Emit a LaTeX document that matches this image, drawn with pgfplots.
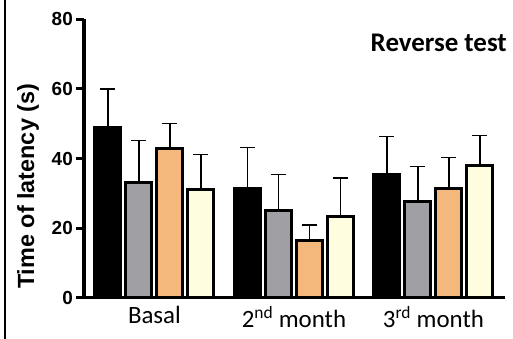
\documentclass[border=0pt]{standalone}
\usepackage{pgfplots}
\pgfplotsset{compat=1.18}
\usepackage{fontspec}
\setmainfont{Carlito}
\newfontfamily\lib{Liberation Sans}
\definecolor{cgray}{HTML}{A0A0A4}
\definecolor{corange}{HTML}{F4B77C}
\definecolor{cyellow}{HTML}{FFFDE0}
\begin{document}
\begin{tikzpicture}
\path[use as bounding box] (0,0) rectangle (513bp,339bp);
\draw[line width=2bp] (5bp,0) -- (5bp,339bp);
\begin{axis}[
  at={(84bp,41bp)}, anchor=south west, scale only axis,
  width=421bp, height=279bp,
  xmin=-0.505, xmax=2.513, ymin=0, ymax=80,
  axis x line*=bottom, axis y line*=left,
  axis line style={line width=3bp, -},
  ytick={0,20,40,60,80},
  major y tick style={line width=3bp, black},
  major tick length=8bp, tick align=outside,
  xtick={0,1,2},
  xticklabels={Basal, 2\textsuperscript{nd} month, 3\textsuperscript{rd} month},
  major x tick style={draw=none},
  x tick label style={font=\fontsize{25}{25}\selectfont, inner sep=0pt, yshift=0bp},
  y tick label style={font=\fontsize{19}{19}\selectfont\lib\bfseries, inner sep=0pt, xshift=-3bp},
  /pgf/number format/assume math mode=true,
  ylabel={Time of latency (s)},
  ylabel style={font=\fontsize{23.5}{23.5}\selectfont\lib\bfseries, at={(rel axis cs:0,0.4)}, anchor=center, yshift=56bp},
  ybar=5bp, bar width=26bp,
  clip=false,
]
\addplot[fill=black, draw=black, line width=3bp,
  error bars/.cd, y dir=plus, y explicit,
  error bar style={line width=1.3bp, black},
  error mark options={rotate=90, mark size=7.5bp, line width=1.3bp, black}]
  coordinates {(0,49.0) +- (0,10.9) (1,31.3) +- (0,11.8) (2,35.5) +- (0,10.9)};
\addplot[fill=cgray, draw=black, line width=3bp,
  error bars/.cd, y dir=plus, y explicit,
  error bar style={line width=1.3bp, black},
  error mark options={rotate=90, mark size=7.5bp, line width=1.3bp, black}]
  coordinates {(0,33.2) +- (0,11.9) (1,25.1) +- (0,10.4) (2,27.7) +- (0,10.1)};
\addplot[fill=corange, draw=black, line width=3bp,
  error bars/.cd, y dir=plus, y explicit,
  error bar style={line width=1.3bp, black},
  error mark options={rotate=90, mark size=7.5bp, line width=1.3bp, black}]
  coordinates {(0,43.0) +- (0,7.1) (1,16.5) +- (0,4.4) (2,31.5) +- (0,8.7)};
\addplot[fill=cyellow, draw=black, line width=3bp,
  error bars/.cd, y dir=plus, y explicit,
  error bar style={line width=1.3bp, black},
  error mark options={rotate=90, mark size=7.5bp, line width=1.3bp, black}]
  coordinates {(0,31.2) +- (0,9.9) (1,23.4) +- (0,11.0) (2,38.0) +- (0,8.5)};
\end{axis}
\node[anchor=base east, font=\fontsize{27}{27}\selectfont\bfseries, inner sep=0pt] at (507bp,287bp) {Reverse test};
\end{tikzpicture}
\end{document}
